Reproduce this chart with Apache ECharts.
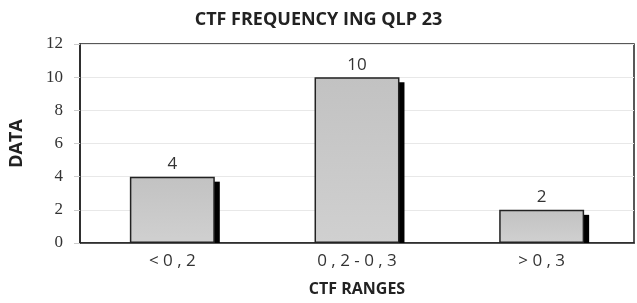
<!DOCTYPE html>
<html>
<head>
<meta charset="utf-8">
<script src="https://cdn.jsdelivr.net/npm/echarts@6/dist/echarts.min.js"></script>
<style>
  html, body { margin: 0; padding: 0; background: #fff; }
  #chart { width: 637px; height: 303px; }
</style>
</head>
<body>
<div id="chart"></div>
<script>
// data
var categories = ['< 0 , 2', '0 , 2 - 0 , 3', '> 0 , 3'];
var counts = [4, 10, 2];
var yTicks = { min: 0, max: 12, step: 2 };

var chart = echarts.init(document.getElementById('chart'));

// black drop shadow on the right side of each bar
function renderShadow(params, api) {
	var top = api.coord([api.value(0), api.value(1)]);
	var base = api.coord([api.value(0), 0]);
	var w = api.size([1, 0])[0] * 0.46;
	return {
		type: 'rect',
		shape: {
			x: top[0] + w / 2 - 1,
			y: top[1] + 5,
			width: 6,
			height: base[1] - top[1] - 5
		},
		style: { fill: '#000' }
	};
}

var option = {
	backgroundColor: '#fff',
	animation: false,
	title: {
		text: 'CTF FREQUENCY ING QLP 23',
		left: 'center',
		top: 6,
		textStyle: { fontFamily: 'Open Sans', fontWeight: 'bold', fontSize: 18, color: '#222' }
	},
	grid: {
		left: 79, right: 3, top: 44, bottom: 60,
		show: true, borderColor: '#222', borderWidth: 1.5
	},
	xAxis: {
		type: 'category',
		data: categories,
		name: 'CTF RANGES',
		nameLocation: 'middle',
		nameGap: 38,
		nameTextStyle: { fontFamily: 'Open Sans', fontWeight: 'bold', fontSize: 16, color: '#222' },
		axisLine: { lineStyle: { color: '#222', width: 1.5 } },
		axisTick: { show: false },
		axisLabel: { fontFamily: 'Open Sans', fontSize: 17, color: '#333', margin: 10 }
	},
	yAxis: {
		type: 'value',
		min: yTicks.min,
		max: yTicks.max,
		interval: yTicks.step,
		name: 'DATA',
		nameLocation: 'middle',
		nameGap: 54,
		nameRotate: 90,
		nameTextStyle: { fontFamily: 'Open Sans', fontWeight: 'bold', fontSize: 18, color: '#222' },
		axisLine: { show: true, lineStyle: { color: '#222', width: 1.5 } },
		axisTick: { show: true, length: 6, lineStyle: { color: '#ccc' } },
		axisLabel: { fontFamily: 'Liberation Serif', fontSize: 17, color: '#333', margin: 17 },
		splitLine: { lineStyle: { color: '#e8e8e8' } }
	},
	series: [
		{
			type: 'custom',
			renderItem: renderShadow,
			data: counts.map(function (v, i) { return [i, v]; }),
			z: 1,
			silent: true
		},
		{
			type: 'bar',
			data: counts,
			barWidth: '46%',
			z: 3,
			itemStyle: {
				color: new echarts.graphic.LinearGradient(0, 0, 0, 1, [
					{ offset: 0, color: '#c2c2c2' },
					{ offset: 1, color: '#d0d0d0' }
				]),
				borderColor: '#222',
				borderWidth: 1.5
			},
			label: {
				show: true,
				position: 'top',
				distance: 4,
				fontFamily: 'Open Sans',
				fontSize: 17,
				color: '#333'
			}
		}
	]
};

chart.setOption(option);
</script>
</body>
</html>
